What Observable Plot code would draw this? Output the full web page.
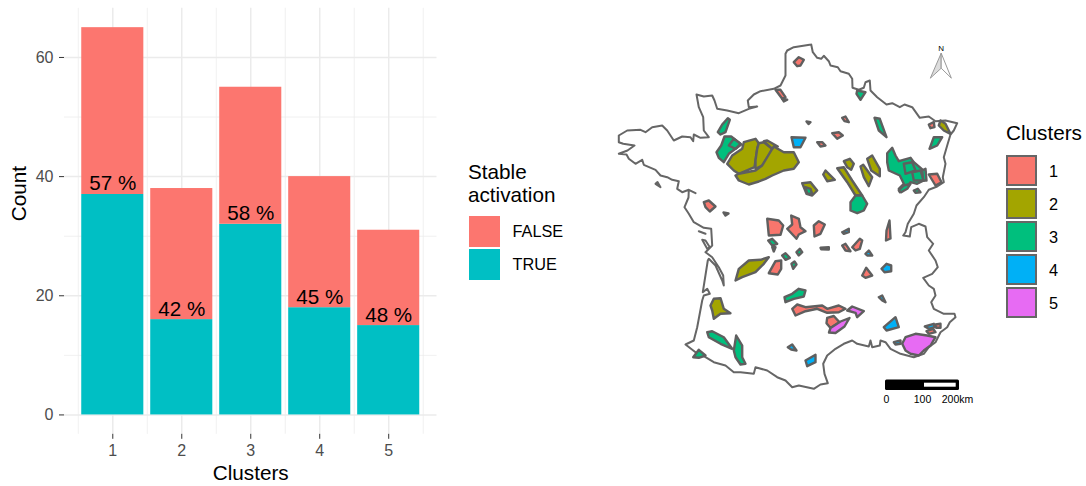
<!DOCTYPE html>
<html><head><meta charset="utf-8">
<script src="https://cdn.jsdelivr.net/npm/d3@7"></script>
<script src="https://cdn.jsdelivr.net/npm/@observablehq/plot@0.6"></script>
<style>
html,body{margin:0;padding:0;background:#fff;}
#page{position:relative;width:1086px;height:486px;overflow:hidden;font-family:"Liberation Sans",Arial,sans-serif;color:#000;}
#page svg{position:absolute;top:0;}
.t{position:absolute;white-space:nowrap;line-height:1;}
.sw{position:absolute;box-sizing:border-box;}
</style></head><body><div id="page"></div>
<script>
// ---- bar chart values
const clusters=[1,2,3,4,5];
const stableTrue=[37,16,32,18,15];
const totals=[65,38,55,40,31];
const percents=["57 %","42 %","58 %","45 %","48 %"];
const stableNames=["FALSE","TRUE"];
const stableColors=["#FC766F","#00BFC4"];
const majorY=[0,20,40,60], minorY=[10,30,50];
const minorX=[0.5,1.5,2.5,3.5,4.5,5.5];
// ---- map values (traced positions, map units)
const clusterColors=["#F8766D","#A3A500","#00BF7D","#00B0F6","#E76BF3"];
const franceCoast=[[810.7,44],[812.3,51.7],[816.7,57.3],[820.7,58.3],[823.3,55.3],[828.3,60.7],[830,65],[837.3,66.7],[840,70.7],[848.3,73.3],[851.7,78.3],[852,87.3],[858.3,89.3],[863.3,87.3],[865,81.7],[869.3,80],[870,90],[876.7,96.7],[886,104],[891.7,102.7],[899.3,106.7],[904,104],[911.7,106.7],[919.3,117.3],[928.3,116],[935,120.7],[945,120],[956.7,122.7],[953.3,130],[950,134],[946.7,145],[943.3,156.7],[945,163.3],[942.3,176.7],[943.3,181.7],[936.7,186],[928.3,189.3],[923.3,196.7],[916,205],[913.3,213.3],[907.3,223.3],[905,231.7],[902.7,235],[909.3,236],[910.7,226.7],[918.3,223.3],[925,226],[926.7,236.7],[932.7,243.3],[928.3,250],[935,260],[937.3,266.7],[931.7,273.3],[922.7,277.3],[928.3,285],[933.3,288.3],[935,295],[930.7,301.7],[933.3,308.3],[943.3,313.3],[954,313.3],[955,316.7],[949.3,321.7],[946.7,326.7],[940,331.7],[935,341.7],[928.3,346.7],[923.3,353.3],[913.3,356.7],[900,353.3],[890,348.3],[885,341.7],[880,340],[879.3,345],[871.7,346.7],[870,340],[868.3,346],[856.7,343.3],[851.7,340],[843.3,343.3],[835,348.3],[826.7,355],[822.7,363.3],[824,373.3],[827.3,382.7],[820,384],[813.3,388.3],[798.3,385],[791.7,386.7],[785,380],[776.7,376.7],[766.7,370],[755,366.7],[753.3,373.3],[740,371.7],[733.3,371.7],[725,365],[713.3,361.7],[705,356.7],[695,351.7],[685,344],[693.3,340],[696.7,326.7],[701.7,300],[703.3,295],[709.3,293.3],[706.7,288.3],[702.3,291.7],[707.3,260],[708.3,258.3],[715,265],[721.7,280],[723.3,285],[722.7,275],[718.3,266.7],[711.7,256.7],[705,251.7],[711.7,245],[710.7,228.3],[703.3,227.3],[693.3,221.7],[688.3,213.3],[684,206.7],[688,197],[688.3,189.3],[695,192.7],[688.3,189.3],[681.7,191.7],[676.7,188.3],[678.3,180.7],[671.7,179.3],[666.7,176.7],[660,175],[655,169.3],[643.3,164.3],[641.7,159.3],[635,163.3],[628.3,158.3],[626,154],[618.3,153.3],[627,150],[634,145],[622.7,143.3],[618.3,141.7],[618.3,135],[626.7,130],[640,129.3],[645,131.7],[651.7,126.7],[661.7,125],[666.7,130],[673.3,140],[681.7,136],[690,136.7],[692.7,140.7],[693.3,134],[700,137.3],[708.3,136.7],[703.3,130],[702.7,116.7],[698.3,106.7],[696,94],[703.3,96],[711.7,95],[714,100],[716.7,108.3],[726.7,110],[738.3,112.7],[748.3,108.3],[756.7,106],[748.3,106.7],[747.3,100],[753.3,94],[760,90.7],[773.3,88.3],[780,85],[785,75],[785,53.3],[786.7,50],[793.3,46.7],[810.7,44]];
const franceIslands=[
 [[698.3,230.7],[705,233.3]],
 [[701.7,239.3],[706.7,248.3],[709.3,246.7],[705,240],[701.7,239.3]],
 [[655,183.3],[660,186.7],[657,181.5],[655,183.3]]
];
const cluster1=[
 [[793.3,61.7],[798.3,56.7],[803.3,59.3],[800,65],[796.7,65.7]],
 [[775,89.3],[780,89.3],[785,96.7],[781.7,98.3]],
 [[841.7,117.3],[845,116],[848.3,121.7],[844,120.7]],
 [[831.7,132.7],[838.3,131.7],[842.3,135],[836.7,138.3]],
 [[816.7,141.7],[821.7,141.7],[825,145],[820,146]],
 [[928.3,124],[933.3,121.7],[934,126.7],[930,127.7]],
 [[928.3,174],[936.7,173.3],[941,181.7],[935,185]],
 [[703.3,201.7],[708.3,200],[715,206],[709.3,211],[705,206.7]],
 [[723,212],[728,213],[725,215]],
 [[766.7,218.3],[778.3,220],[782.7,225],[780,234.3],[768.3,235]],
 [[790.7,215],[798.3,218.3],[800,226.7],[805,230.7],[798.3,234],[796,238.3],[786.7,228.3],[791.7,224]],
 [[813.3,225],[818.3,220.7],[824.3,224],[820,233.3],[814,236]],
 [[768.3,272.7],[775,260.7],[780.7,260],[780.7,268.3],[777.3,274]],
 [[791.7,308.3],[796.7,304],[805,306.7],[821.7,305],[826.7,308.3],[838.3,305],[845,308.3],[838.3,311.7],[826.7,312.3],[816.7,308.3],[805,310.7],[795,315]],
 [[826.7,317.3],[833.3,315.5],[839,321.7],[830,327.5],[826,322.7]],
 [[841.7,245],[845,243.3],[850,250.7],[845,250]],
 [[851.7,246.7],[859.3,238.3],[861.7,240],[859.3,248.3],[855,250]],
 [[861.7,275],[865.7,267.3],[871.7,275],[865,277.3]],
 [[886,230],[889,220],[890,238],[885.5,240]],
 [[935,324],[940,323.3],[940,327.3],[935.7,327.3]],
 [[926,330.7],[932.7,328.3],[935,331.7],[928.3,333.3]]
];
const cluster2=[
 [[726.7,163.3],[731.7,155],[741.7,148.3],[743.3,141.7],[755,138.3],[758.3,142.7],[756.7,148.3],[755,160],[754,166.7],[738.3,173.3],[733.3,170]],
 [[758.3,142.7],[763.3,141.7],[771.7,148.3],[768.3,155],[761.7,165],[755,168.3],[755,160],[756.7,148.3]],
 [[735,175],[738.3,173.3],[755,170],[761.7,165],[771.7,148.3],[773.3,146],[783.3,151.7],[793.3,151.7],[798.3,161.7],[793.3,168.3],[783.3,170],[771.7,175],[765,178.3],[758.3,181],[748.3,184],[738.3,180]],
 [[763.3,140.7],[766.7,140],[777.3,146],[773.3,146],[771.7,148.3]],
 [[843.3,160.7],[849.3,158.3],[853.3,163.3],[850.7,169.3],[846.7,166.7]],
 [[822.7,174],[825,170],[834.3,179.3],[826.7,180.7]],
 [[801.7,182.7],[810,181.7],[816.7,190],[811.7,195],[806,193.3]],
 [[836.7,167.7],[843.3,166.7],[851.7,180],[861.7,195],[855,195],[846.7,181.7]],
 [[860,166],[862.7,164.3],[871.7,176.7],[868.3,185.7],[863.3,176.7]],
 [[866.7,158.3],[871.7,155],[879.3,168.3],[879.3,175.7],[870.7,170]],
 [[938.3,125],[940,120],[945,123.3],[950,133.3],[943.3,130]],
 [[735,280],[738.3,268.3],[748.3,260],[760,259.3],[768.3,256.7],[763.3,263.3],[755,271.7],[741.7,276.7]],
 [[710,305],[713.3,298.3],[720,297.7],[723.3,308.3],[730,312.7],[720,313.3],[713.3,318.3],[711.7,310]]
];
const cluster3=[
 [[781.7,98.3],[786.7,99.3],[783.3,101]],
 [[717.3,131.7],[721.7,124],[727.3,117.7],[729.3,119.3],[725,131.7],[720,134]],
 [[716,151.7],[720.7,145],[724,136],[730.7,136],[740.7,144],[735,148.3],[728.3,153.3],[723.3,161.7],[718.3,157.3]],
 [[728.3,145],[733.3,138.3],[740,143.3],[735,148.3]],
 [[805,186.7],[810,188.3],[811.7,193.3],[806.7,193.3]],
 [[850,201.7],[855,195],[861.7,195],[866.7,203.3],[863.3,210],[856.7,212.7],[850,210]],
 [[929,148.3],[933.3,136.7],[941.7,136.7],[936.7,145]],
 [[856.7,90],[865,91.7],[860,99.3],[856,93.3]],
 [[874,117.3],[879.3,118.3],[886,136.7],[878.3,130]],
 [[886.7,152.7],[891.7,147.3],[895,155],[898.3,160.7],[910,157.3],[913.3,161.7],[925,171.7],[923.3,180],[916.7,183.3],[910,181.7],[905,188.3],[899.3,191.7],[898.3,188.3],[903.3,183.3],[899.3,175],[888.3,170],[886.7,161.7]],
 [[903.3,163.3],[911.7,161.7],[915,170],[905,173.3]],
 [[911.7,171.7],[920,170],[923.3,180],[913.3,180]],
 [[898.3,190],[903.3,185],[910,183.3],[906.7,188.3],[900.7,191.7]],
 [[921.7,170],[925,168.3],[926,180],[922.7,180]],
 [[913.3,190],[917.3,188.3],[920,191.7],[915,192.3]],
 [[767.7,240],[771.7,238.3],[776.7,243.3],[771.7,245]],
 [[771.7,246.7],[775,246.7],[773.3,251]],
 [[781.7,255],[785,252.7],[789.3,257.3],[785,259.3]],
 [[791,263.3],[794,261],[796,264],[792.7,268.3]],
 [[796,251.7],[799.3,248.3],[801.7,251.7],[798.3,255]],
 [[820,247.3],[828.3,246.7],[828.3,249],[820.7,248.7]],
 [[806,121],[810,121.7],[808,123.5]],
 [[784,296.7],[791.7,293.3],[798.3,288.3],[805,290],[803.3,296],[793.3,298.3],[785,301.7]],
 [[706.7,331.7],[711.7,330.7],[723.3,336.7],[731.7,348.3],[720,343.3],[708.3,336.7]],
 [[733.3,350],[735.7,335],[741.7,345],[741.7,356.7],[745,363.3],[740,364],[735,356.7]],
 [[692.7,356.7],[698.3,349.3],[705,355],[698.3,357.3]]
];
const cluster4=[
 [[791,136.7],[805,137.3],[800,146.7],[793.3,146.7]],
 [[787.3,346.7],[791.7,344],[796,350],[790.7,349]],
 [[805,360],[815,354.3],[815,361.7],[806.7,365.7]],
 [[841.7,231.7],[848.3,228.3],[848.3,231.7],[843.3,233.3]],
 [[865,253.3],[868.3,250],[871.7,255],[866.7,255]],
 [[881,268.3],[886,263.3],[890.7,265],[890.7,270.7],[884,271.7]],
 [[878.3,296.7],[881.7,295],[885,301.7],[881.7,300]],
 [[883.3,326.7],[895,316.7],[898.3,326.7],[886,330]],
 [[893.3,341.7],[900,340],[900,343.3],[895,344]],
 [[924.3,326],[933.3,323.3],[934,326.7],[928.3,328.3]]
];
const cluster5=[
 [[846.7,310],[851.7,306],[863.3,310.7],[856.7,316.7],[855,312.3]],
 [[828.5,332],[830,327.5],[840,321],[849,317.5],[844,326],[835,332.5]],
 [[901.7,343.3],[905,336.7],[915,333.3],[926.7,335],[935,336.7],[930,345],[923.3,350],[918.3,355],[910,353.3],[905,350]]
];
const clusterPolygons=[cluster1,cluster2,cluster3,cluster4,cluster5];
const arrowLeft=[[930,77.3],[940.7,52.7],[940.7,67.3]];
const arrowRight=[[950.7,77.3],[940.7,52.7],[940.7,67.3]];
const scaleLabels=[{x:886,t:"0"},{x:922,t:"100"},{x:957,t:"200km"}];
const font='"Liberation Sans",Arial,sans-serif';

// ---- bar chart
const barRows=clusters.flatMap((c,i)=>[
 {c,stable:"TRUE",y1:0,y2:stableTrue[i]},
 {c,stable:"FALSE",y1:stableTrue[i],y2:totals[i]}
]);
const bars=Plot.plot({
 width:440,height:486,marginLeft:64,marginRight:3.5,marginTop:7.8,marginBottom:52.2,
 style:{fontFamily:font,background:"transparent",color:"#000"},
 x:{domain:[0.3,5.7],axis:null},
 y:{domain:[-3.25,68.25],axis:null},
 color:{domain:stableNames,range:stableColors},
 marks:[
  Plot.ruleY(minorY,{stroke:"#EBEBEB",strokeWidth:0.75}),
  Plot.ruleX(minorX,{stroke:"#EBEBEB",strokeWidth:0.75}),
  Plot.ruleY(majorY,{stroke:"#EBEBEB",strokeWidth:1.5}),
  Plot.ruleX(clusters,{stroke:"#EBEBEB",strokeWidth:1.5}),
  Plot.rect(barRows,{x1:d=>d.c-0.45,x2:d=>d.c+0.45,y1:"y1",y2:"y2",fill:"stable"}),
  Plot.text(clusters,{x:d=>d,y:(d,i)=>stableTrue[i],text:(d,i)=>percents[i],lineAnchor:"bottom",dy:-4,fontSize:20.6,fill:"#000"}),
  Plot.axisX({ticks:clusters,tickSize:5,tickPadding:5,fontSize:16,stroke:"#333",fill:"#4D4D4D",label:null,tickFormat:d=>d}),
  Plot.axisY({ticks:majorY,tickSize:5,tickPadding:6,fontSize:16,stroke:"#333",fill:"#4D4D4D",label:null}),
  Plot.text(["Clusters"],{frameAnchor:"bottom",dy:46,fontSize:20.7,fill:"#000"}),
  Plot.text(["Count"],{frameAnchor:"left",dx:-45,rotate:-90,fontSize:20.7,fill:"#000"})
 ]
});
bars.style.left="0px";

// ---- map
const mapRows=[];
clusterPolygons.forEach((polys,i)=>polys.forEach((p,j)=>p.forEach(pt=>mapRows.push({x:pt[0],y:pt[1],cluster:i+1,id:`${i}-${j}`}))));
const map=Plot.plot({
 width:486,height:486,margin:0,
 style:{fontFamily:font,background:"transparent",color:"#000"},
 x:{domain:[600,1086],axis:null},
 y:{domain:[486,0],axis:null},
 color:{type:"ordinal",domain:clusters,range:clusterColors},
 marks:[
  Plot.line(franceCoast,{x:d=>d[0],y:d=>d[1],stroke:"#666",strokeWidth:2}),
  ...franceIslands.map(p=>Plot.line(p,{x:d=>d[0],y:d=>d[1],stroke:"#666",strokeWidth:2})),
  Plot.line(mapRows,{x:"x",y:"y",z:"id",fill:"cluster",stroke:"#5F5F5F",strokeWidth:2.4,strokeLinejoin:"round",curve:"linear-closed"}),
  Plot.line(arrowLeft,{x:d=>d[0],y:d=>d[1],fill:"#DDD",stroke:"#999",strokeWidth:1,curve:"linear-closed"}),
  Plot.line(arrowRight,{x:d=>d[0],y:d=>d[1],fill:"#fff",stroke:"#999",strokeWidth:1,curve:"linear-closed"}),
  Plot.text(["N"],{x:()=>940.7,y:()=>48,fontSize:8,fill:"#000"}),
  Plot.rect([0],{x1:()=>885,x2:()=>959,y1:()=>379.5,y2:()=>390,fill:"#000",rx:1.5}),
  Plot.rect([0],{x1:()=>924,x2:()=>955.7,y1:()=>382.7,y2:()=>386.7,fill:"#fff"}),
  Plot.text(scaleLabels,{x:"x",y:()=>399,text:"t",fontSize:10.5,fill:"#000"})
 ]
});
map.style.left="600px";

const page=document.getElementById("page");
page.append(map,bars);
function txt(s,x,cy,size){const d=document.createElement("div");d.className="t";d.textContent=s;d.style.left=x+"px";d.style.top=(cy-size/2)+"px";d.style.fontSize=size+"px";page.append(d);}
function swatch(x,y,w,h,fill,stroke){const d=document.createElement("div");d.className="sw";Object.assign(d.style,{left:x+"px",top:y+"px",width:w+"px",height:h+"px",background:fill,border:stroke?`2px solid ${stroke}`:"none"});page.append(d);}
// legend: stable activation
txt("Stable",468,172,20.7);txt("activation",468,195,20.7);
stableNames.forEach((n,i)=>{swatch(469,216+i*33,30.5,30.5,stableColors[i]);txt(n,512.5,231+i*33,16.3);});
// legend: clusters
txt("Clusters",1006,133,20.7);
clusters.forEach((c,i)=>{swatch(1006,155+i*33,31,31,clusterColors[i],"#666");txt(String(c),1049,171+i*33,16.3);});
</script></body></html>
